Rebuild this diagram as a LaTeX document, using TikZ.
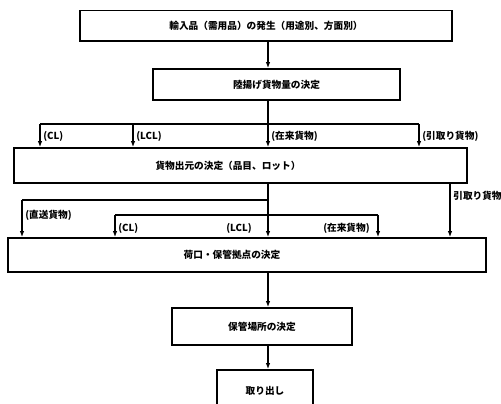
\documentclass[tikz,border=0pt]{standalone}
\usepackage{fontspec}
\setmainfont{Noto Sans CJK JP}
\usetikzlibrary{arrows.meta}

\begin{document}
\begin{tikzpicture}[
  x=0.02cm, y=-0.02cm,
  box/.style={draw,line width=1pt,inner sep=1pt},
  line/.style={line width=0.8pt},
  flow/.style={line,-{Latex[length=1.2mm,width=0.9mm]}},
  tag/.style={inner sep=1.5pt},
  every node/.append style={font=\fontsize{5.5}{6.5}\selectfont\bfseries}
]
  \useasboundingbox (0,0) rectangle (501,404);
  \clip (0,0) rectangle (501,404);

  % boxes, top to bottom
  \node[box,minimum width=7.44cm,minimum height=6.1mm] (occur) at (266,25.75) {輸入品（需用品）の発生（用途別、方面別）};
  \node[box,minimum width=4.94cm,minimum height=6.2mm] (unload) at (276.5,84.5) {陸揚げ貨物量の決定};
  \node[box,minimum width=9.06cm,minimum height=7mm] (origin) at (240.5,165.5) {\hspace*{-5mm}貨物出元の決定（品目、ロット）};
  \node[box,minimum width=9.56cm,minimum height=6.8mm] (hub) at (247,255) {\hspace*{-6mm}荷口・保管拠点の決定};
  \node[box,minimum width=3.6cm,minimum height=7.4mm] (store) at (262,326.5) {保管場所の決定};
  \node[box,minimum width=1.92cm,minimum height=8.4mm] (takeout) at (265,391) {取り出し};

  % branch points
  \coordinate (trunk) at (268,0);
  \coordinate (split1) at (268,124);
  \coordinate (cl1) at (40,124);
  \coordinate (lcl1) at (133,124);
  \coordinate (pick1) at (419,124);
  \coordinate (direct) at (22,200);
  \coordinate (split2) at (268,200);
  \coordinate (cl2) at (115,215);
  \coordinate (conv2) at (378,215);
  \coordinate (pick2) at (450,0);

  \draw[flow] (occur.south -| trunk) -- (unload.north -| trunk);
  \draw[line] (unload.south -| trunk) -- (split1);
  \draw[line] (cl1) -- (pick1);
  \draw[flow] (cl1) -- (cl1 |- origin.north) node[tag,right,pos=.55] {(CL)};
  \draw[flow] (lcl1) -- (lcl1 |- origin.north) node[tag,right,pos=.55] {(LCL)};
  \draw[flow] (split1) -- (split1 |- origin.north) node[tag,right,pos=.55] {(在来貨物)};
  \draw[flow] (pick1) -- (pick1 |- origin.north) node[tag,right,pos=.55] {(引取り貨物)};

  \draw[line] (origin.south -| trunk) -- (split2);
  \draw[line] (direct) -- (split2);
  \draw[line] (cl2) -- (conv2);
  \draw[flow] (direct) -- (direct |- hub.north) node[tag,right,pos=.4] {(直送貨物)};
  \draw[flow] (cl2) -- (cl2 |- hub.north) node[tag,right,pos=.6] {(CL)};
  \draw[flow] (split2) -- (split2 |- hub.north) node[tag,left=2.6mm,pos=.76] {(LCL)};
  \draw[flow] (conv2) -- (conv2 |- hub.north) node[tag,left=1mm,pos=.6] {(在来貨物)};
  \draw[flow] (origin.south -| pick2) -- (pick2 |- hub.north) node[tag,right,pos=.22] {引取り貨物};

  \draw[flow] (hub.south -| trunk) -- (store.north -| trunk);
  \draw[flow] (store.south -| trunk) -- (takeout.north -| trunk);
\end{tikzpicture}
\end{document}
